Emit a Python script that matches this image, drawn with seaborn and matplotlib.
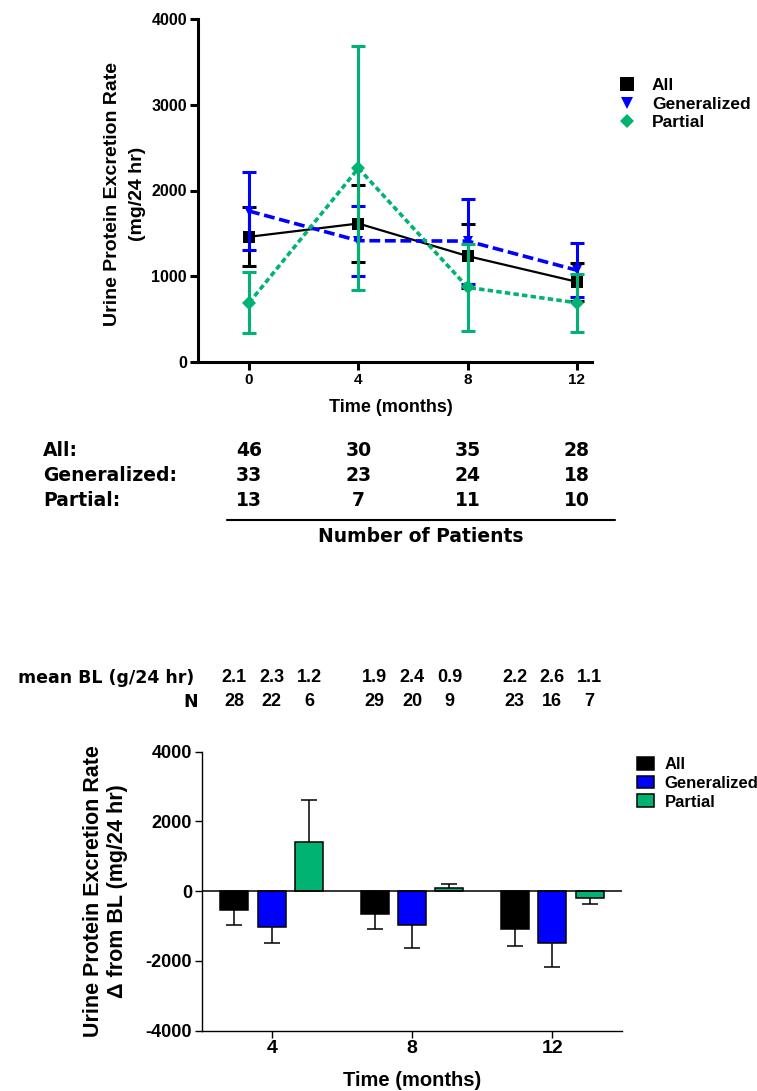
import numpy as np
import pandas as pd
import matplotlib
matplotlib.use("Agg")
import matplotlib.pyplot as plt
from matplotlib.lines import Line2D
from matplotlib.patches import Patch
from matplotlib.transforms import blended_transform_factory
import seaborn as sns

# ---- Urine protein excretion over time (mean and SEM, mg/24 hr) ----
months = [0, 4, 8, 12]
groups = ["All", "Generalized", "Partial"]
all_mean = [1460, 1615, 1235, 935]
all_sem = [345, 445, 375, 220]
gen_mean = [1760, 1415, 1410, 1070]
gen_sem = [455, 410, 495, 315]
par_mean = [690, 2260, 870, 690]
par_sem = [355, 1425, 510, 335]

# ---- Number of patients per visit ----
n_all = [46, 30, 35, 28]
n_gen = [33, 23, 24, 18]
n_par = [13, 7, 11, 10]

# ---- Change from baseline (mean and SEM, mg/24 hr) ----
change_months = ["4", "8", "12"]
chg_all = [-530, -665, -1085]
chg_all_sem = [450, 410, 500]
chg_gen = [-1025, -980, -1480]
chg_gen_sem = [450, 640, 700]
chg_par = [1420, 95, -190]
chg_par_sem = [1190, 125, 185]

# ---- Baseline means (g/24 hr) and N behind each change bar ----
bl_all = [2.1, 1.9, 2.2]
bl_gen = [2.3, 2.4, 2.6]
bl_par = [1.2, 0.9, 1.1]
nbl_all = [28, 29, 23]
nbl_gen = [22, 20, 16]
nbl_par = [6, 9, 7]

GREEN = "#00B373"
BLUE = "#0000FF"
palette = {"All": "black", "Generalized": BLUE, "Partial": GREEN}

sns.set_theme(style="ticks")
plt.rcParams["font.family"] = ["Liberation Sans", "DejaVu Sans"]
plt.rcParams["font.weight"] = "bold"
plt.rcParams["axes.labelweight"] = "bold"
plt.rcParams["axes.labelcolor"] = "black"
plt.rcParams["axes.edgecolor"] = "black"
plt.rcParams["axes.unicode_minus"] = False
plt.rcParams["xtick.color"] = "black"
plt.rcParams["ytick.color"] = "black"
plt.rcParams["text.color"] = "black"

W, H = 757, 1091
fig = plt.figure(figsize=(W / 100, H / 100), dpi=100)


def box(x0, y0, x1, y1):
    return [x0 / W, 1 - y1 / H, (x1 - x0) / W, (y1 - y0) / H]


# ================= Line chart =================
ax1 = fig.add_axes(box(198, 19, 592, 362))
line_series = [
    ("All", all_mean, all_sem, "s", "-", 1.6, 8.6),
    ("Generalized", gen_mean, gen_sem, "v", (0, (3.0, 1.3)), 2.6, 7.5),
    ("Partial", par_mean, par_sem, "D", (0, (1.5, 0.9)), 2.6, 6.7),
]
for k, (name, mean, sem, mk, ls, lw, ms) in enumerate(line_series):
    col = palette[name]
    ax1.errorbar(months, mean, yerr=sem, fmt="none", ecolor=col,
                 elinewidth=2.2, capsize=4.7, capthick=2.2, zorder=3 + 2 * k)
    sns.lineplot(x=months, y=mean, color=col, marker=mk, markersize=ms,
                 markeredgewidth=0, linestyle=ls, linewidth=lw,
                 legend=False, ax=ax1, zorder=4 + 2 * k)

ax1.set_xlim(-1.87, 12.55)
ax1.set_ylim(0, 4000)
ax1.set_xticks(months)
ax1.set_yticks([0, 1000, 2000, 3000, 4000])
sns.despine(ax=ax1)
for s in ("left", "bottom"):
    ax1.spines[s].set_linewidth(2.2)
ax1.tick_params(axis="both", width=2.2, length=6, pad=2)
ax1.tick_params(axis="x", labelsize=11)
ax1.tick_params(axis="y", labelsize=11.5)
ax1.set_xlabel("Time (months)", fontsize=13, va="center")
ax1.xaxis.set_label_coords(0.49, -0.132)
ax1.set_ylabel("Urine Protein Excretion Rate\n(mg/24 hr)", fontsize=14,
               va="center", linespacing=1.6)
ax1.yaxis.set_label_coords(-0.185, 0.49)

top_handles = [
    Line2D([], [], ls="none", marker="s", ms=10, mew=0, color="black"),
    Line2D([], [], ls="none", marker="v", ms=9, mew=0, color=BLUE),
    Line2D([], [], ls="none", marker="D", ms=7.5, mew=0, color=GREEN),
]
fig.legend(top_handles, groups, loc="upper left",
           bbox_to_anchor=(618 / W, 1 - 78 / H), frameon=False,
           borderpad=0, borderaxespad=0, handlelength=1.0,
           handletextpad=0.95, labelspacing=0.2,
           prop={"size": 12.5, "weight": "bold"})

# ---- Patient count table under the line chart ----
tr1 = blended_transform_factory(ax1.transData, fig.transFigure)
tab_font = {"family": "DejaVu Sans", "weight": "bold", "size": 13.5}
row_y = [450.5, 475, 500]
for label, counts, y in zip(["All:", "Generalized:", "Partial:"],
                            [n_all, n_gen, n_par], row_y):
    fig.text(43 / W, 1 - y / H, label, ha="left", va="center", fontdict=tab_font)
    for m, c in zip(months, counts):
        fig.text(m, 1 - y / H, str(c), transform=tr1, ha="center",
                 va="center", fontdict=tab_font)
fig.add_artist(Line2D([227 / W, 615 / W], [1 - 520 / H, 1 - 520 / H],
                      color="black", lw=1.5))
fig.text(421 / W, 1 - 537 / H, "Number of Patients", ha="center",
         va="center", fontdict=tab_font)

# ================= Change-from-baseline bars =================
ax2 = fig.add_axes(box(201.7, 751.7, 622.3, 1030.7))
chg_vals, chg_sems, bl_vals, bl_ns = [], [], [], []
for i in range(len(change_months)):
    chg_vals += [chg_all[i], chg_gen[i], chg_par[i]]
    chg_sems += [chg_all_sem[i], chg_gen_sem[i], chg_par_sem[i]]
    bl_vals += [bl_all[i], bl_gen[i], bl_par[i]]
    bl_ns += [nbl_all[i], nbl_gen[i], nbl_par[i]]
df = pd.DataFrame({
    "month": np.repeat(change_months, len(groups)),
    "group": groups * len(change_months),
    "change": chg_vals,
})
sns.barplot(data=df, x="month", y="change", hue="group", order=change_months,
            hue_order=groups, palette=palette, saturation=1, errorbar=None,
            width=0.8, gap=0.25, edgecolor="black", linewidth=1.1,
            legend=False, ax=ax2)

bars = sorted(ax2.patches, key=lambda p: p.get_x())
centers = np.array([p.get_x() + p.get_width() / 2 for p in bars])
vals = np.array(chg_vals, dtype=float)
sems = np.array(chg_sems, dtype=float)
lower = np.where(vals < 0, sems, 0)
upper = np.where(vals >= 0, sems, 0)
ax2.errorbar(centers, vals, yerr=[lower, upper], fmt="none", ecolor="black",
             elinewidth=1.1, capsize=0, zorder=3)
ax2.plot(centers, vals + np.sign(vals) * sems, ls="none", marker="_",
         ms=11, mew=1.1, color="black", zorder=3)
ax2.axhline(0, color="black", lw=1.1, zorder=4)

ax2.set_xlim(-0.5, 2.5)
ax2.set_ylim(-4000, 4000)
ax2.set_yticks([-4000, -2000, 0, 2000, 4000])
sns.despine(ax=ax2)
for s in ("left", "bottom"):
    ax2.spines[s].set_linewidth(1.0)
ax2.tick_params(axis="both", width=1.0, length=5, pad=2)
ax2.tick_params(axis="x", labelsize=14)
ax2.tick_params(axis="y", labelsize=13)
ax2.set_xlabel("Time (months)", fontsize=14.5, va="center")
ax2.xaxis.set_label_coords(0.5, -0.177)
ax2.set_ylabel("Urine Protein Excretion Rate\n\u0394 from BL (mg/24 hr)",
               fontsize=15.5, va="center", linespacing=1.15)
ax2.yaxis.set_label_coords(-0.229, 0.5)

bar_handles = [Patch(facecolor=palette[g], edgecolor="black", lw=1.1)
               for g in groups]
fig.legend(bar_handles, groups, loc="upper left",
           bbox_to_anchor=(637 / W, 1 - 757 / H), frameon=False,
           borderpad=0, borderaxespad=0, handlelength=1.0, handleheight=0.78,
           handletextpad=0.66, labelspacing=0.22,
           prop={"size": 12, "weight": "bold"})

# ---- Baseline summary rows above the bars ----
tr2 = blended_transform_factory(ax2.transData, fig.transFigure)
lab_font = {"family": "DejaVu Sans", "weight": "bold", "size": 12.5}
num_font = {"family": "Liberation Sans", "weight": "bold", "size": 13}
fig.text(194 / W, 1 - 678 / H, "mean BL (g/24 hr)", ha="right", va="center",
         fontdict=lab_font)
fig.text(198 / W, 1 - 702 / H, "N", ha="right", va="center", fontdict=lab_font)
for xc, b, n in zip(centers, bl_vals, bl_ns):
    fig.text(xc, 1 - 678 / H, f"{b:.1f}", transform=tr2, ha="center",
             va="center", fontdict=num_font)
    fig.text(xc, 1 - 702 / H, str(n), transform=tr2, ha="center",
             va="center", fontdict=num_font)

fig.savefig("out.png", dpi=100)
